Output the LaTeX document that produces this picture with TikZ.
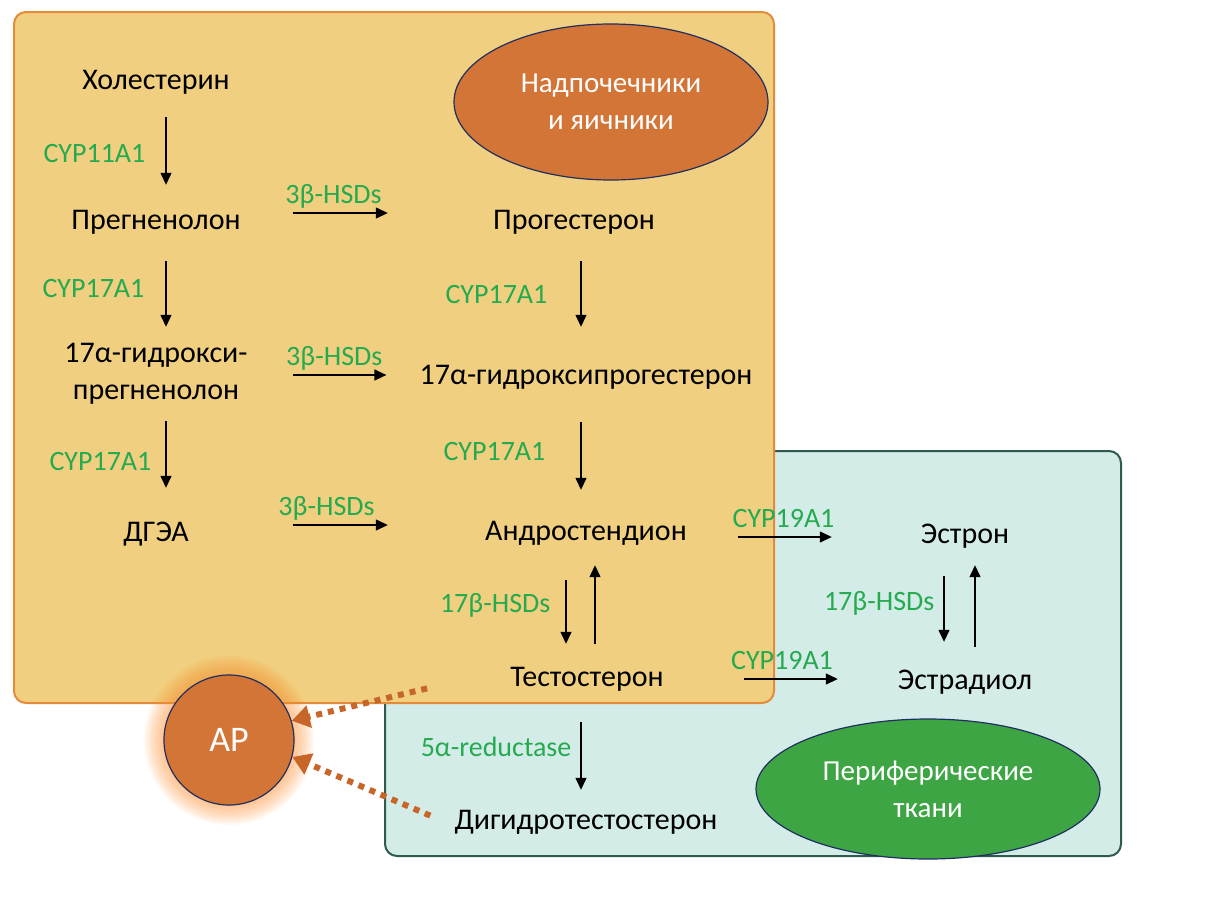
\documentclass[tikz,border=0pt]{standalone}
\usepackage{fontspec}
\setmainfont{Carlito}
\usetikzlibrary{arrows.meta,positioning,shapes.geometric}

\definecolor{glandbg}{HTML}{F0D080}
\definecolor{glandline}{HTML}{E38B3A}
\definecolor{tissuebg}{HTML}{D4ECE8}
\definecolor{tissueline}{HTML}{2F5A4E}
\definecolor{organor}{HTML}{D47538}
\definecolor{organgr}{HTML}{3EA544}
\definecolor{navy}{HTML}{1F2F5F}
\definecolor{enz}{HTML}{25AA50}
\definecolor{dotor}{HTML}{C8662A}
\definecolor{halo}{HTML}{FF8A2A}

\tikzset{
  sub/.style={font=\fontsize{30}{37}\selectfont, align=center, inner sep=0pt, minimum height=70pt},
  lcol/.style={sub, minimum width=250pt},
  mcol/.style={sub, minimum width=300pt},
  rcol/.style={sub, minimum width=240pt},
  enzyme/.style={font=\fontsize{28}{32}\selectfont, text=enz, inner sep=0pt},
  arr/.style={line width=1.3pt, -{Triangle[length=12pt,width=11pt]}},
  dotarr/.style={draw=dotor, line width=6pt, line cap=butt, dash pattern=on 6pt off 6pt, -{Triangle[length=18pt,width=22pt]}},
  organ/.style={ellipse, draw=navy, line width=1.2pt, text=white, align=center, font=\fontsize{29}{37}\selectfont}
}

\begin{document}
\begin{tikzpicture}[x=1pt, y=-1pt, line join=round]
  \useasboundingbox (0,0) rectangle (1225,900);

  % boxes
  \draw[fill=tissuebg, draw=tissueline, line width=2pt, rounded corners=12pt] (385,451) rectangle (1121,856);
  \draw[fill=glandbg, draw=glandline, line width=2pt, rounded corners=12pt] (14,12) rectangle (774,703);

  \node[organ, fill=organor, minimum width=314pt, minimum height=156pt] (adr) at (611,102) {Надпочечники\\и яичники};
  \node[organ, fill=organgr, minimum width=344pt, minimum height=140pt] (peri) at (928,789) {Периферические\\ткани};

  % substances
  \node[lcol] (hol) at (156,82) {Холестерин};
  \node[lcol] (preg) at (156,222) {Прегненолон};
  \node[lcol, minimum height=94pt] (ohpreg) at (156,374) {17α-гидрокси-\\прегненолон};
  \node[lcol] (dhea) at (156,534) {ДГЭА};

  \node[mcol] (prog) at (574,222) {Прогестерон};
  \node[mcol] (ohprog) at (586,377) {17α-гидроксипрогестерон};
  \node[mcol] (andro) at (586,533) {Андростендион};
  \node[mcol] (test) at (587,679) {Тестостерон};
  \node[mcol] (dht) at (586,822) {Дигидротестостерон};

  \node[rcol] (estrone) at (965,536) {Эстрон};
  \node[rcol] (estradiol) at (965,682) {Эстрадиол};

  % left column
  \draw[arr, shorten >=2pt] ([xshift=10pt]hol.south) -- node[enzyme, midway, left=20pt, yshift=-2pt]{CYP11A1} ([xshift=10pt]preg.north);
  \draw[arr, shorten <=4pt] ([xshift=10pt]preg.south) -- node[enzyme, midway, left=21pt, yshift=3pt]{CYP17A1} ([xshift=10pt]ohpreg.north);
  \draw[arr, shorten >=11pt] ([xshift=10pt]ohpreg.south) -- node[enzyme, midway, left=14pt, yshift=-2pt]{CYP17A1} ([xshift=10pt]dhea.north);

  % 3beta-HSDs
  \draw[arr, shorten <=12pt, shorten >=36pt] ([yshift=9pt]preg.east) -- node[enzyme, midway, above=4pt, xshift=-19pt]{3β-HSDs} ([yshift=9pt]prog.west);
  \draw[arr, shorten <=12pt, shorten >=33pt] ([yshift=-1pt]ohpreg.east) -- node[enzyme, midway, above=4pt, xshift=-16pt]{3β-HSDs} ([yshift=2pt]ohprog.west);
  \draw[arr, shorten <=12pt, shorten >=48pt] ([yshift=9pt]dhea.east) -- node[enzyme, midway, above=4pt, xshift=-32pt]{3β-HSDs} ([yshift=8pt]andro.west);

  % middle column
  \draw[arr, shorten <=4pt, shorten >=15pt] ([xshift=7pt]prog.south) -- node[enzyme, midway, left=33pt, yshift=5pt]{CYP17A1} ([xshift=-5pt]ohprog.north);
  \draw[arr, shorten <=10pt, shorten >=8pt] ([xshift=-5pt]ohprog.south) -- node[enzyme, midway, left=35pt, yshift=3pt]{CYP17A1} ([xshift=-5pt]andro.north);
  \draw[arr, shorten <=12pt] ([xshift=-20pt]andro.south) -- node[enzyme, midway, left=15pt, yshift=1pt]{17β-HSDs} ([xshift=-21pt]test.north);
  \draw[arr, shorten >=-3pt] ([xshift=8pt]test.north) -- ([xshift=9pt]andro.south);
  \draw[arr, shorten <=8pt, shorten >=-3pt] ([xshift=-6pt]test.south) -- node[enzyme, midway, left=9pt, yshift=4pt]{5α-reductase} ([xshift=-5pt]dht.north);

  % aromatase
  \draw[arr, shorten <=2pt, shorten >=13pt] ([yshift=-4pt]andro.east) -- node[enzyme, midway, above=9pt, xshift=-7pt]{CYP19A1} ([yshift=-1pt]estrone.west);
  \draw[arr, shorten <=7pt, shorten >=7pt] (test.east) -- node[enzyme, midway, above=9pt, xshift=-9pt]{CYP19A1} ([yshift=3pt]estradiol.west);

  % right column
  \draw[arr, shorten <=5pt, shorten >=5pt] ([xshift=-21pt]estrone.south) -- node[enzyme, midway, left=9pt, yshift=6pt]{17β-HSDs} ([xshift=-21pt]estradiol.north);
  \draw[arr, shorten >=-6pt] ([xshift=10pt]estradiol.north) -- ([xshift=10pt]estrone.south);

  % receptor
  \foreach \g in {1,...,9}
    \fill[halo, opacity=0.07] (229,740) circle [radius={65pt+2.2pt*\g}];
  \node[circle, draw=navy, line width=1.2pt, fill=organor, text=white, minimum size=130pt, font=\fontsize{36}{40}\selectfont] (ar) at (229,740) {АР};

  \draw[dotarr, shorten <=10pt] ([yshift=-7pt]test.west) -- (ar.17);
  \draw[dotarr, shorten <=6pt] ([yshift=4pt]dht.west) -- (ar.-15);
\end{tikzpicture}
\end{document}
